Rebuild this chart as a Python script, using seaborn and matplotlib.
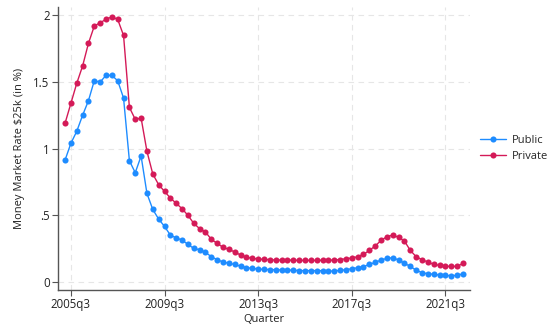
import matplotlib
matplotlib.use("Agg")
import matplotlib.pyplot as plt
import seaborn as sns
import pandas as pd
import numpy as np

# Quarterly data 2005q2 .. 2022q2
start_year, start_q = 2005, 2
public = [0.914, 1.04, 1.13, 1.25, 1.36, 1.51, 1.50, 1.55, 1.55, 1.51,
          1.38, 0.91, 0.82, 0.945, 0.664, 0.544, 0.472, 0.417, 0.352, 0.330,
          0.315, 0.282, 0.252, 0.242, 0.222, 0.190, 0.167, 0.150, 0.140, 0.132,
          0.118, 0.108, 0.102, 0.097, 0.095, 0.093, 0.092, 0.090, 0.090, 0.088,
          0.086, 0.085, 0.086, 0.085, 0.085, 0.082, 0.082, 0.088, 0.092, 0.100,
          0.107, 0.115, 0.132, 0.147, 0.165, 0.177, 0.182, 0.165, 0.140, 0.117,
          0.088, 0.070, 0.062, 0.058, 0.052, 0.050, 0.047, 0.050, 0.062]
private = [1.19, 1.34, 1.49, 1.62, 1.79, 1.92, 1.945, 1.97, 1.99, 1.97,
           1.85, 1.31, 1.22, 1.23, 0.98, 0.81, 0.73, 0.68, 0.63, 0.59,
           0.55, 0.50, 0.44, 0.40, 0.375, 0.32, 0.29, 0.26, 0.245, 0.225,
           0.202, 0.185, 0.178, 0.172, 0.170, 0.167, 0.165, 0.165, 0.165, 0.163,
           0.162, 0.162, 0.162, 0.162, 0.163, 0.163, 0.165, 0.168, 0.175, 0.180,
           0.190, 0.207, 0.237, 0.270, 0.312, 0.340, 0.352, 0.335, 0.307, 0.237,
           0.190, 0.167, 0.150, 0.132, 0.125, 0.118, 0.117, 0.117, 0.140]
tick_labels = ["2005q3", "2009q3", "2013q3", "2017q3", "2021q3"]
ytick_vals = [0, 0.5, 1, 1.5, 2]
ytick_labels = ["0", ".5", "1", "1.5", "2"]

n = len(public)
qidx = list(range(n))
df = pd.DataFrame({
    "q": qidx * 2,
    "rate": public + private,
    "sector": ["Public"] * n + ["Private"] * n,
})

def label_to_idx(lab):
    y, q = int(lab[:4]), int(lab[-1])
    return (y - start_year) * 4 + (q - start_q)

sns.set_style("white")
plt.rcParams["font.family"] = ["Open Sans", "DejaVu Sans"]

fig = plt.figure(figsize=(5.53, 3.24), dpi=100)
ax = fig.add_axes([58/553, 1 - 290/324, (470-58)/553, (290-7)/324])

palette = {"Public": "#1e8cff", "Private": "#d41a58"}
sns.lineplot(data=df, x="q", y="rate", hue="sector", palette=palette,
             marker="o", markersize=4.4, markeredgewidth=0, linewidth=1.0,
             ax=ax, legend=True)

ax.set_xlim(-1.2, n - 1 + 1.2)
ax.set_ylim(-0.06, 2.063)
ax.set_xticks([label_to_idx(l) for l in tick_labels])
ax.set_xticklabels(tick_labels)
ax.set_yticks(ytick_vals)
ax.set_yticklabels(ytick_labels)
ax.grid(True, color="#e6e6e6", linestyle=(0, (5, 4)), linewidth=0.8)
ax.set_axisbelow(True)
for s in ["top", "right"]:
    ax.spines[s].set_visible(False)
for s in ["left", "bottom"]:
    ax.spines[s].set_color("#555555")
    ax.spines[s].set_linewidth(1.0)
ax.tick_params(axis="both", which="both", direction="out", length=4,
               width=0.8, color="#555555", labelsize=8.3, labelcolor="#222222",
               left=True, bottom=True, pad=2)
ax.set_xlabel("Quarter", fontsize=8, color="#222222", labelpad=2)
ax.set_ylabel("Money Market Rate \\$25k (in %)", fontsize=8, color="#222222", labelpad=6)

handles, labels = ax.get_legend_handles_labels()
ax.legend(handles, labels, loc="center left", bbox_to_anchor=(1.013, 0.5),
          frameon=False, fontsize=8, handlelength=2.4, handletextpad=0.5,
          labelspacing=0.5, borderaxespad=0)

fig.savefig("out.png", dpi=100)
